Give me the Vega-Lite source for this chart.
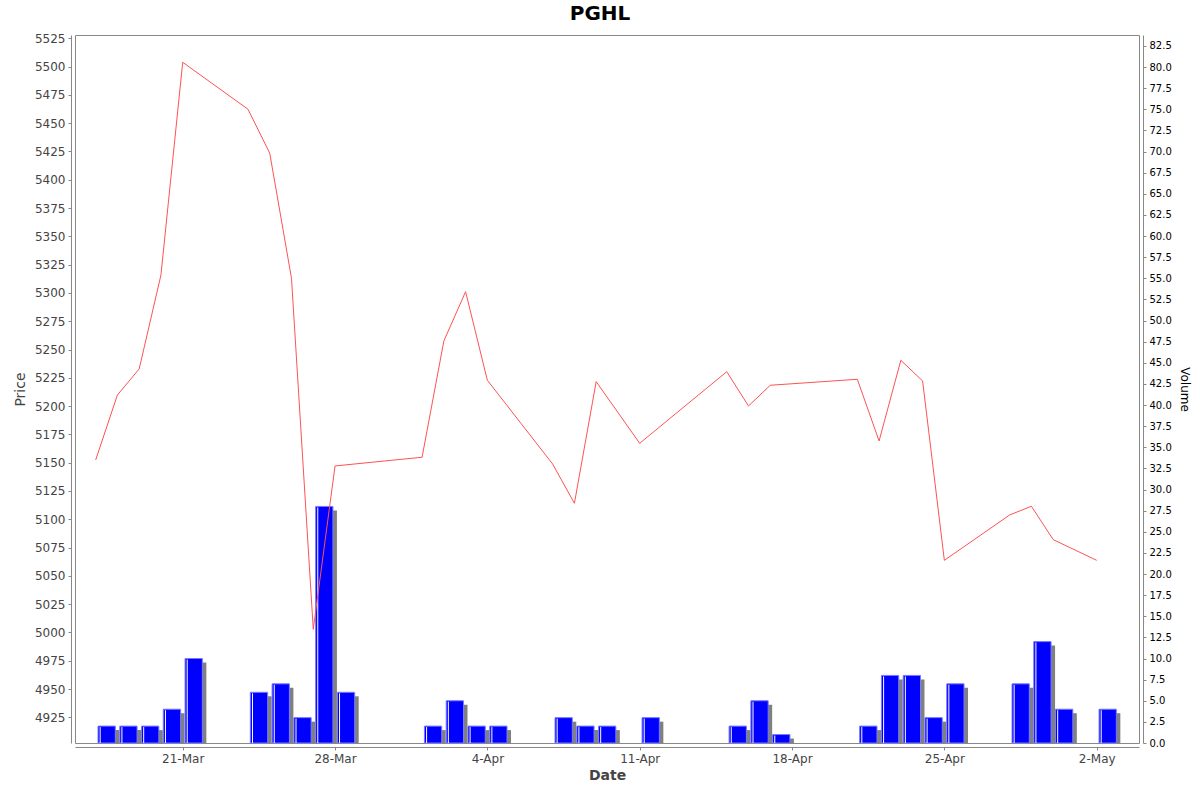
{
  "$schema": "https://vega.github.io/schema/vega-lite/v6.json",
  "width": 1064,
  "height": 708,
  "autosize": "none",
  "padding": {"left": 75, "top": 35, "right": 61, "bottom": 49},
  "title": {
    "text": "PGHL",
    "font": "DejaVu Sans",
    "fontSize": 20,
    "fontWeight": "bold",
    "color": "black",
    "offset": 8,
    "dx": -7
  },
  "config": {
    "view": {"stroke": "#888888"},
    "scale": {"continuousPadding": 0},
    "axis": {"grid": false, "domainColor": "#888888", "tickColor": "#888888", "tickSize": 3, "offset": 4,
      "labelFont": "DejaVu Sans", "titleFont": "DejaVu Sans"}
  },
  "data": {
    "values": [
      {"date": "2025-03-17T00:00:00", "price": 5152.4, "volume": 2},
      {"date": "2025-03-18T00:00:00", "price": 5209.8, "volume": 2},
      {"date": "2025-03-19T00:00:00", "price": 5232.8, "volume": 2},
      {"date": "2025-03-20T00:00:00", "price": 5315.8, "volume": 4},
      {"date": "2025-03-21T00:00:00", "price": 5503.8, "volume": 10},
      {"date": "2025-03-24T00:00:00", "price": 5462.3, "volume": 6},
      {"date": "2025-03-25T00:00:00", "price": 5423.4, "volume": 7},
      {"date": "2025-03-26T00:00:00", "price": 5312.9, "volume": 3},
      {"date": "2025-03-27T00:00:00", "price": 5002.8, "volume": 28},
      {"date": "2025-03-28T00:00:00", "price": 5147.1, "volume": 6},
      {"date": "2025-04-01T00:00:00", "price": 5154.8, "volume": 2},
      {"date": "2025-04-02T00:00:00", "price": 5257.5, "volume": 5},
      {"date": "2025-04-03T00:00:00", "price": 5301.1, "volume": 2},
      {"date": "2025-04-04T00:00:00", "price": 5222.8, "volume": 2},
      {"date": "2025-04-07T00:00:00", "price": 5148.8, "volume": 3},
      {"date": "2025-04-08T00:00:00", "price": 5114.1, "volume": 2},
      {"date": "2025-04-09T00:00:00", "price": 5221.6, "volume": 2},
      {"date": "2025-04-11T00:00:00", "price": 5167.1, "volume": 3},
      {"date": "2025-04-15T00:00:00", "price": 5230.4, "volume": 2},
      {"date": "2025-04-16T00:00:00", "price": 5200.1, "volume": 5},
      {"date": "2025-04-17T00:00:00", "price": 5218.4, "volume": 1},
      {"date": "2025-04-21T00:00:00", "price": 5223.7, "volume": 2},
      {"date": "2025-04-22T00:00:00", "price": 5169.2, "volume": 8},
      {"date": "2025-04-23T00:00:00", "price": 5240.5, "volume": 8},
      {"date": "2025-04-24T00:00:00", "price": 5222.2, "volume": 3},
      {"date": "2025-04-25T00:00:00", "price": 5063.7, "volume": 7},
      {"date": "2025-04-28T00:00:00", "price": 5103.8, "volume": 7},
      {"date": "2025-04-29T00:00:00", "price": 5111.5, "volume": 12},
      {"date": "2025-04-30T00:00:00", "price": 5082.0, "volume": 4},
      {"date": "2025-05-02T00:00:00", "price": 5063.7, "volume": 4}
    ]
  },
  "encoding": {
    "x": {
      "field": "date",
      "type": "temporal",
      "title": "Date",
      "scale": {
        "padding": 0,
        "domain": [
          {"year": 2025, "month": 3, "date": 16, "hours": 1, "minutes": 13},
          {"year": 2025, "month": 5, "date": 3, "hours": 22, "minutes": 39}
        ]
      },
      "axis": {
        "values": [
          {"year": 2025, "month": 3, "date": 21},
          {"year": 2025, "month": 3, "date": 28},
          {"year": 2025, "month": 4, "date": 4},
          {"year": 2025, "month": 4, "date": 11},
          {"year": 2025, "month": 4, "date": 18},
          {"year": 2025, "month": 4, "date": 25},
          {"year": 2025, "month": 5, "date": 2}
        ],
        "format": "%-d-%b",
        "labelFontSize": 12,
        "labelColor": "#444444",
        "labelPadding": 3,
        "titleFontSize": 14,
        "titleFontWeight": "bold",
        "titleColor": "#444444",
        "titlePadding": 4
      }
    }
  },
  "layer": [
    {
      "encoding": {
        "y": {
          "field": "volume",
          "type": "quantitative",
          "title": "Volume",
          "scale": {"domain": [0, 83.8], "nice": false, "zero": true},
          "axis": {
            "orient": "right",
            "values": [0, 2.5, 5, 7.5, 10, 12.5, 15, 17.5, 20, 22.5, 25, 27.5, 30, 32.5, 35, 37.5, 40, 42.5, 45, 47.5, 50, 52.5, 55, 57.5, 60, 62.5, 65, 67.5, 70, 72.5, 75, 77.5, 80, 82.5],
            "format": ".1f",
            "labelFontSize": 10,
            "labelColor": "black",
            "labelPadding": 3,
            "titleFontSize": 12,
            "titleFontWeight": "normal",
            "titleColor": "black",
            "titlePadding": 6
          }
        }
      },
      "layer": [
        {
          "mark": {"type": "bar", "color": "#808080", "width": 17.3, "xOffset": 15, "yOffset": 4, "clip": true},
          "encoding": {"y2": {"datum": 0}}
        },
        {
          "mark": {"type": "bar", "color": "#0000ff", "stroke": "#7a7aff", "strokeWidth": 1, "width": 17.3, "xOffset": 11},
          "encoding": {"y2": {"datum": 0}}
        },
        {
          "mark": {"type": "rule", "color": "white", "strokeWidth": 1, "xOffset": 4.5, "yOffset": 1},
          "encoding": {"y2": {"datum": 0}}
        }
      ]
    },
    {
      "mark": {"type": "line", "color": "#ff5252", "strokeWidth": 1, "clip": true},
      "encoding": {
        "y": {
          "field": "price",
          "type": "quantitative",
          "title": "Price",
          "scale": {"domain": [4902.3, 5527.9], "nice": false, "zero": false},
          "axis": {
            "orient": "left",
            "values": [4925, 4950, 4975, 5000, 5025, 5050, 5075, 5100, 5125, 5150, 5175, 5200, 5225, 5250, 5275, 5300, 5325, 5350, 5375, 5400, 5425, 5450, 5475, 5500, 5525],
            "format": "d",
            "labelFontSize": 12,
            "labelColor": "#444444",
            "labelPadding": 3,
            "titleFontSize": 14,
            "titleFontWeight": "normal",
            "titleColor": "#444444",
            "titlePadding": 7
          }
        }
      }
    }
  ],
  "resolve": {"scale": {"y": "independent"}}
}
